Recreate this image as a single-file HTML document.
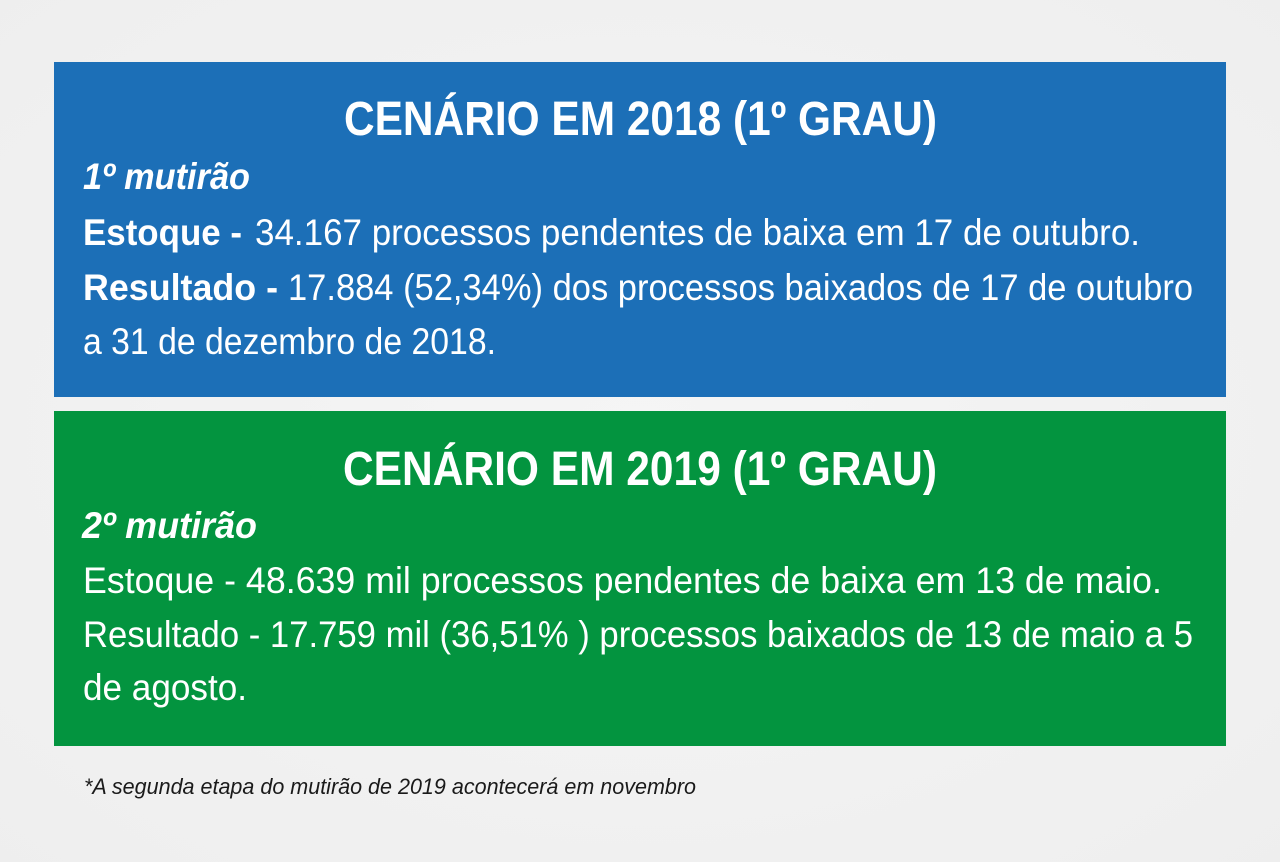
<!DOCTYPE html>
<html>
<head>
<meta charset="utf-8">
<style>
  html,body{margin:0;padding:0;}
  body{width:1280px;height:862px;overflow:hidden;background:#f1f1f1;}
  svg{display:block;}
  .t{font-family:"Liberation Sans",sans-serif;fill:#ffffff;}
</style>
</head>
<body>
<svg width="1280" height="862" viewBox="0 0 1280 862" xmlns="http://www.w3.org/2000/svg">
  <defs>
    <radialGradient id="bg" cx="50%" cy="50%" r="75%">
      <stop offset="0" stop-color="#f5f5f5"/>
      <stop offset="1" stop-color="#eeeeee"/>
    </radialGradient>
  </defs>
  <rect x="0" y="0" width="1280" height="862" fill="url(#bg)"/>

  <!-- Blue box -->
  <rect x="54" y="62" width="1172" height="335" fill="#1c6fb7"/>
  <text class="t" x="344" y="135" font-size="48" font-weight="bold" textLength="593" lengthAdjust="spacingAndGlyphs">CENÁRIO EM 2018 (1º GRAU)</text>
  <text class="t" x="83" y="189" font-size="37" font-weight="bold" font-style="italic" textLength="167" lengthAdjust="spacingAndGlyphs">1º mutirão</text>
  <text class="t" x="83" y="245" font-size="37" font-weight="bold" textLength="159" lengthAdjust="spacingAndGlyphs">Estoque -</text>
  <text class="t" x="255" y="245" font-size="37" textLength="885" lengthAdjust="spacingAndGlyphs">34.167 processos pendentes de baixa em 17 de outubro.</text>
  <text class="t" x="83" y="300" font-size="37" font-weight="bold" textLength="195" lengthAdjust="spacingAndGlyphs">Resultado -</text>
  <text class="t" x="288" y="300" font-size="37" textLength="905" lengthAdjust="spacingAndGlyphs">17.884 (52,34%) dos processos baixados de 17 de outubro</text>
  <text class="t" x="83" y="354" font-size="37" textLength="413" lengthAdjust="spacingAndGlyphs">a 31 de dezembro de 2018.</text>

  <!-- Green box -->
  <rect x="54" y="411" width="1172" height="335" fill="#03943f"/>
  <text class="t" x="343" y="485" font-size="48" font-weight="bold" textLength="594" lengthAdjust="spacingAndGlyphs">CENÁRIO EM 2019 (1º GRAU)</text>
  <text class="t" x="82" y="538" font-size="37" font-weight="bold" font-style="italic" textLength="175" lengthAdjust="spacingAndGlyphs">2º mutirão</text>
  <text class="t" x="83" y="593" font-size="37" textLength="1079" lengthAdjust="spacingAndGlyphs">Estoque - 48.639 mil processos pendentes de baixa em 13 de maio.</text>
  <text class="t" x="83" y="647" font-size="37" textLength="1110" lengthAdjust="spacingAndGlyphs">Resultado - 17.759 mil (36,51% ) processos baixados de 13 de maio a 5</text>
  <text class="t" x="83" y="700" font-size="37" textLength="164" lengthAdjust="spacingAndGlyphs">de agosto.</text>

  <!-- Footnote -->
  <text x="84" y="794" font-family="Liberation Sans, sans-serif" font-size="22" font-style="italic" fill="#1a1a1a" textLength="612" lengthAdjust="spacingAndGlyphs">*A segunda etapa do mutirão de 2019 acontecerá em novembro</text>
</svg>
</body>
</html>
